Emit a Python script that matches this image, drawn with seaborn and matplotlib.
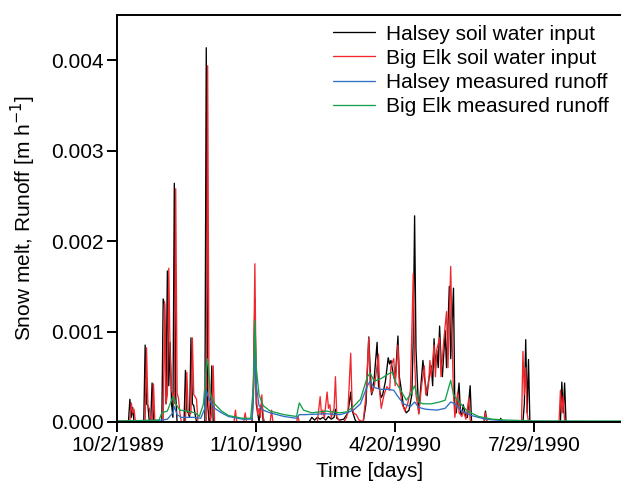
import numpy as np
import pandas as pd
import matplotlib
matplotlib.use("Agg")
import matplotlib.pyplot as plt
import seaborn as sns

START = "1989-10-02"

# --- data (day offset from 10/2/1989, value in m/h) ---
halsey_input_days = [0, 8, 9, 10, 11, 12, 19, 20, 21, 22, 23, 24, 25, 26, 32, 33, 34, 35, 36, 37, 38, 39, 40, 41, 42, 43,
                     48, 49, 50, 51, 52, 53, 54, 55, 56, 57, 63, 64, 65, 66, 67, 68, 69,
                     97, 98, 99, 100, 101, 102, 103, 104, 105,
                     138, 140, 142, 144, 146, 148, 150, 152, 154, 156, 157, 158, 160, 163, 166, 168, 169, 171, 172, 177, 179,
                     181, 182, 183, 184, 185, 187, 188, 190, 191, 193, 195, 196, 197, 198, 199, 200, 202, 203, 204, 206, 208,
                     210, 212, 213, 214, 215, 217, 218, 220, 221, 223, 224, 226, 227, 228, 229, 230, 231, 232, 233, 234, 236,
                     237, 239, 240, 242, 243, 244, 246, 247, 248, 249, 251, 252, 254, 255, 264, 265, 266, 275, 276, 277,
                     292, 293, 294, 295, 296, 297, 319, 320, 321, 322, 323, 363]
halsey_input = [0, 0, 0.00025, 0.00005, 0.00016, 0, 0, 0.00085, 0.0002, 0.00018, 0, 0, 0.00043, 0, 0, 0.00136, 0.0013, 0.0002,
                0.00167, 0.0004, 0.00088, 0.0002, 0.00005, 0.00264, 0.0003, 0,
                0, 0.00057, 0.00012, 0.0001, 0.00005, 0.00093, 0.0002, 0.00018, 0.00008, 0, 0, 0.00414, 0.0002, 0, 0.00005, 0.00062, 0,
                0, 0.0004, 0.00136, 0.0002, 0.0001, 0, 0.00015, 0.00021, 0,
                0, 0.00005, 0.00002, 0.00005, 0.00003, 0.00005, 0.00002, 0.00006, 0.00003, 0.00005, 0.00014, 0.00004, 0.00002,
                0.00003, 0.0001, 0.00033, 0.00013, 0.00003, 0, 0, 0.0002,
                0.00094, 0.0006, 0.0003, 0.00035, 0.0005, 0.00088, 0.0004, 0.00027, 0.0003, 0.00045, 0.00071, 0.00064, 0.00068,
                0.00058, 0.0005, 0.00045, 0.00095, 0.0005, 0.0004, 0.00017, 0.0001,
                0.00013, 0.0003, 0.0009, 0.00228, 0.0008, 0.00009, 0.0003, 0.00068, 0.0005, 0.00029, 0.00045, 0.00062, 0.0004,
                0.00092, 0.0006, 0.00079, 0.0006, 0.00106, 0.0007, 0.0005, 0.00101,
                0.0006, 0.0015, 0.0007, 0.00148, 0.00011, 0.0001, 0.00043, 0.0001, 0.00008, 0.00019, 0.00005, 0.00005, 0.0004, 0,
                0, 0.00012, 0, 0, 0.00004, 0,
                0, 0.0002, 0.00091, 0.0001, 0.00069, 0, 0, 0.00044, 0.0001, 0.00043, 0, 0]

bigelk_input_days = [0, 9, 10, 11, 12, 13, 20, 21, 22, 23, 24, 25, 26, 27, 33, 34, 35, 36, 37, 38, 39, 40, 41, 42, 43, 44, 45, 46,
                     49, 50, 51, 52, 53, 54, 55, 56, 57, 58, 64, 65, 66, 67, 68, 69, 70,
                     84, 85, 86, 91, 92, 93, 97, 98, 99, 100, 101, 102, 103, 104, 105, 106, 110, 111, 112, 129, 130, 131,
                     144, 146, 147, 148, 149, 151, 152, 153, 154, 156, 157, 158, 159, 161, 163, 165, 166, 168, 169, 170, 172,
                     174, 177, 179, 181, 182, 183, 185, 186, 188, 189, 190, 192, 194, 196, 197, 199, 200, 202, 203, 205, 207,
                     209, 211, 213, 214, 215, 217, 219, 221, 222, 224, 225, 226, 228, 229, 230, 232, 233, 235, 237, 238, 240,
                     241, 242, 243, 245, 246, 248, 249, 251, 253, 254, 256, 264, 265, 266, 275, 276, 277,
                     291, 292, 293, 294, 295, 296, 318, 319, 320, 321, 322, 363]
bigelk_input = [0.00001, 0.00001, 0.00021, 0.0001, 0.00014, 0, 0, 0.00082, 0.00017, 0.00015, 0.00003, 0, 0.00042, 0,
                0, 0.00133, 0.0002, 0.0003, 0.0017, 0.00074, 0.00035, 0.0003, 0.0002, 0.00258, 0.00032, 0.00026, 0.0001, 0,
                0, 0.00055, 0.00012, 0.00008, 0.0001, 0.00093, 0.0003, 0.00028, 0.00025, 0, 0, 0.00394, 0.0002, 0, 0.0001, 0.00062, 0,
                0, 0.00013, 0, 0, 0.0001, 0, 0, 0.0005, 0.00175, 0.0003, 0.00008, 0.00015, 0.00005, 0.0003, 0.00005, 0,
                0, 0.00013, 0, 0, 0.00006, 0,
                0, 0.00028, 0.00008, 0.00013, 0.00004, 0.00033, 0.00015, 0.00019, 0.00005, 0.00015, 0.0005, 0.00006, 0.00003,
                0, 0, 0.00005, 0.00012, 0.00076, 0.00019, 0.0001, 0.00008,
                0.00002, 0, 0.0003, 0.00093, 0.0004, 0.00032, 0.0004, 0.0005, 0.00075, 0.0003, 0.00015, 0.0003, 0.00039, 0.00035,
                0.00062, 0.0007, 0.0004, 0.00085, 0.0004, 0.0002, 0.00012,
                0.0002, 0.00035, 0.00164, 0.0007, 0.0003, 0.00009, 0.0004, 0.00062, 0.0003, 0.0004, 0.00068, 0.0005, 0.00085,
                0.0005, 0.0008, 0.00093, 0.0005, 0.0009, 0.00122, 0.0006, 0.00172,
                0.0009, 0.0003, 0.00005, 0.00033, 0.0001, 0.00006, 0.00012, 0.00003, 0.00026, 0.00002, 0, 0, 0.0001, 0, 0, 0.00003, 0,
                0, 0.00078, 0.0003, 0.0006, 0.0001, 0, 0, 0.00035, 0.0001, 0.00029, 0, 0]

halsey_runoff_days = [0, 32, 36, 40, 41, 43, 46, 55, 60, 63, 64, 66, 70, 75, 80, 90, 97, 98, 99, 100, 102, 105, 110, 120,
                      129, 131, 135, 150, 160, 165, 170, 175, 180, 182, 185, 190, 195, 199, 202, 206, 211, 214, 217, 222,
                      230, 236, 240, 243, 248, 255, 265, 280, 363]
halsey_runoff = [0.0, 0.00002, 0.00003, 0.0001, 0.00017, 0.00008, 0.00005, 0.00005, 0.00004, 0.00015, 0.00035, 0.00025,
                 0.00015, 0.0001, 0.00006, 0.00003, 0.00003, 0.0003, 0.00085, 0.0004, 0.00018, 0.00013, 0.0001, 0.00006,
                 0.00004, 0.00008, 0.00008, 0.00009, 0.00008, 0.0001, 0.00013, 0.0002, 0.0004, 0.00045, 0.00038, 0.00036,
                 0.00036, 0.00035, 0.00028, 0.0002, 0.00017, 0.00022, 0.00016, 0.00014,
                 0.00013, 0.00015, 0.00022, 0.0002, 0.00012, 0.00007, 0.00003, 0.00001, 0.0]

bigelk_runoff_days = [0, 30, 32, 36, 40, 42, 45, 50, 56, 59, 62, 64, 65, 67, 70, 75, 80, 90, 96, 98, 99, 100, 102, 105, 110,
                      120, 129, 131, 134, 140, 150, 160, 165, 170, 175, 180, 182, 185, 190, 195, 198, 200, 204, 208, 211,
                      214, 217, 220, 226, 232, 236, 240, 242, 246, 252, 260, 270, 280, 300, 363]
bigelk_runoff = [0.00001, 0.00002, 0.0001, 0.00012, 0.00028, 0.0002, 0.00013, 0.00012, 0.0001, 0.00006, 0.0002, 0.0006,
                 0.0007, 0.0003, 0.0002, 0.00012, 0.00007, 0.00004, 0.00004, 0.0004, 0.00112, 0.0006, 0.0003, 0.00018,
                 0.00012, 0.00008, 0.00006, 0.00021, 0.00013, 0.0001, 0.00012, 0.0001, 0.00011, 0.00017, 0.00025, 0.0005,
                 0.00054, 0.00045, 0.00048, 0.00053, 0.00055, 0.00045, 0.00035, 0.00024, 0.0003,
                 0.0004, 0.00022, 0.0002, 0.0002, 0.00022, 0.00024, 0.00046, 0.0003, 0.00022, 0.00012, 0.00006, 0.00003,
                 0.00002, 0.00001, 0.00001]

series_names = ["Halsey soil water input", "Big Elk soil water input",
                "Halsey measured runoff", "Big Elk measured runoff"]
series_colors = ["#000000", "#f0282d", "#2f6fc6", "#16a04b"]

tick_days = [0, 100, 200, 300]
tick_labels = ["10/2/1989", "1/10/1990", "4/20/1990", "7/29/1990"]
y_ticks = [0.0, 0.001, 0.002, 0.003, 0.004]

# --- build long table ---
start = pd.Timestamp(START)
frames = []
for name, d, v in zip(series_names,
                      [halsey_input_days, bigelk_input_days, halsey_runoff_days, bigelk_runoff_days],
                      [halsey_input, bigelk_input, halsey_runoff, bigelk_runoff]):
    assert len(d) == len(v), (name, len(d), len(v))
    frames.append(pd.DataFrame({"date": start + pd.to_timedelta(d, unit="D"),
                                "value": v, "series": name}))
df = pd.concat(frames, ignore_index=True)

sns.set_theme(style="ticks")
plt.rcParams["font.family"] = ["Liberation Sans", "DejaVu Sans"]
plt.rcParams["text.color"] = "black"
plt.rcParams["axes.labelcolor"] = "black"

FS = 15

fig = plt.figure(figsize=(6.21, 4.90), dpi=100)
ax = fig.add_axes([0.189, 0.139, 0.811, 0.830])

sns.lineplot(data=df, x="date", y="value", hue="series", hue_order=series_names,
             palette=dict(zip(series_names, series_colors)), linewidth=0.95,
             estimator=None, sort=False, ax=ax)

ax.set_xlim(start, start + pd.Timedelta(days=362.6))
ax.set_ylim(0, 0.0045)
ax.set_xticks([start + pd.Timedelta(days=t) for t in tick_days])
ax.set_xticklabels(tick_labels)
ax.set_yticks(y_ticks)
ax.set_yticklabels([f"{t:.3f}" for t in y_ticks])

ax.set_xlabel("Time [days]", fontsize=FS, labelpad=5, color="black")
ax.set_ylabel("Snow melt, Runoff [m h$^{-1}$]", fontsize=FS, labelpad=9, color="black")
ax.tick_params(axis="both", direction="out", length=7, width=1.4, labelsize=FS,
               colors="black", labelcolor="black", pad=3)

for s in ["left", "bottom", "top"]:
    ax.spines[s].set_linewidth(1.4)
    ax.spines[s].set_color("black")
ax.spines["right"].set_visible(False)

leg = ax.legend(loc="upper right", bbox_to_anchor=(0.995, 1.0), frameon=False, fontsize=FS,
                handlelength=2.0, handletextpad=0.55, labelspacing=0.25, borderaxespad=0.05)
for line in leg.get_lines():
    line.set_linewidth(0.95)
for t in leg.get_texts():
    t.set_color("black")

fig.savefig("out.png", dpi=100)
